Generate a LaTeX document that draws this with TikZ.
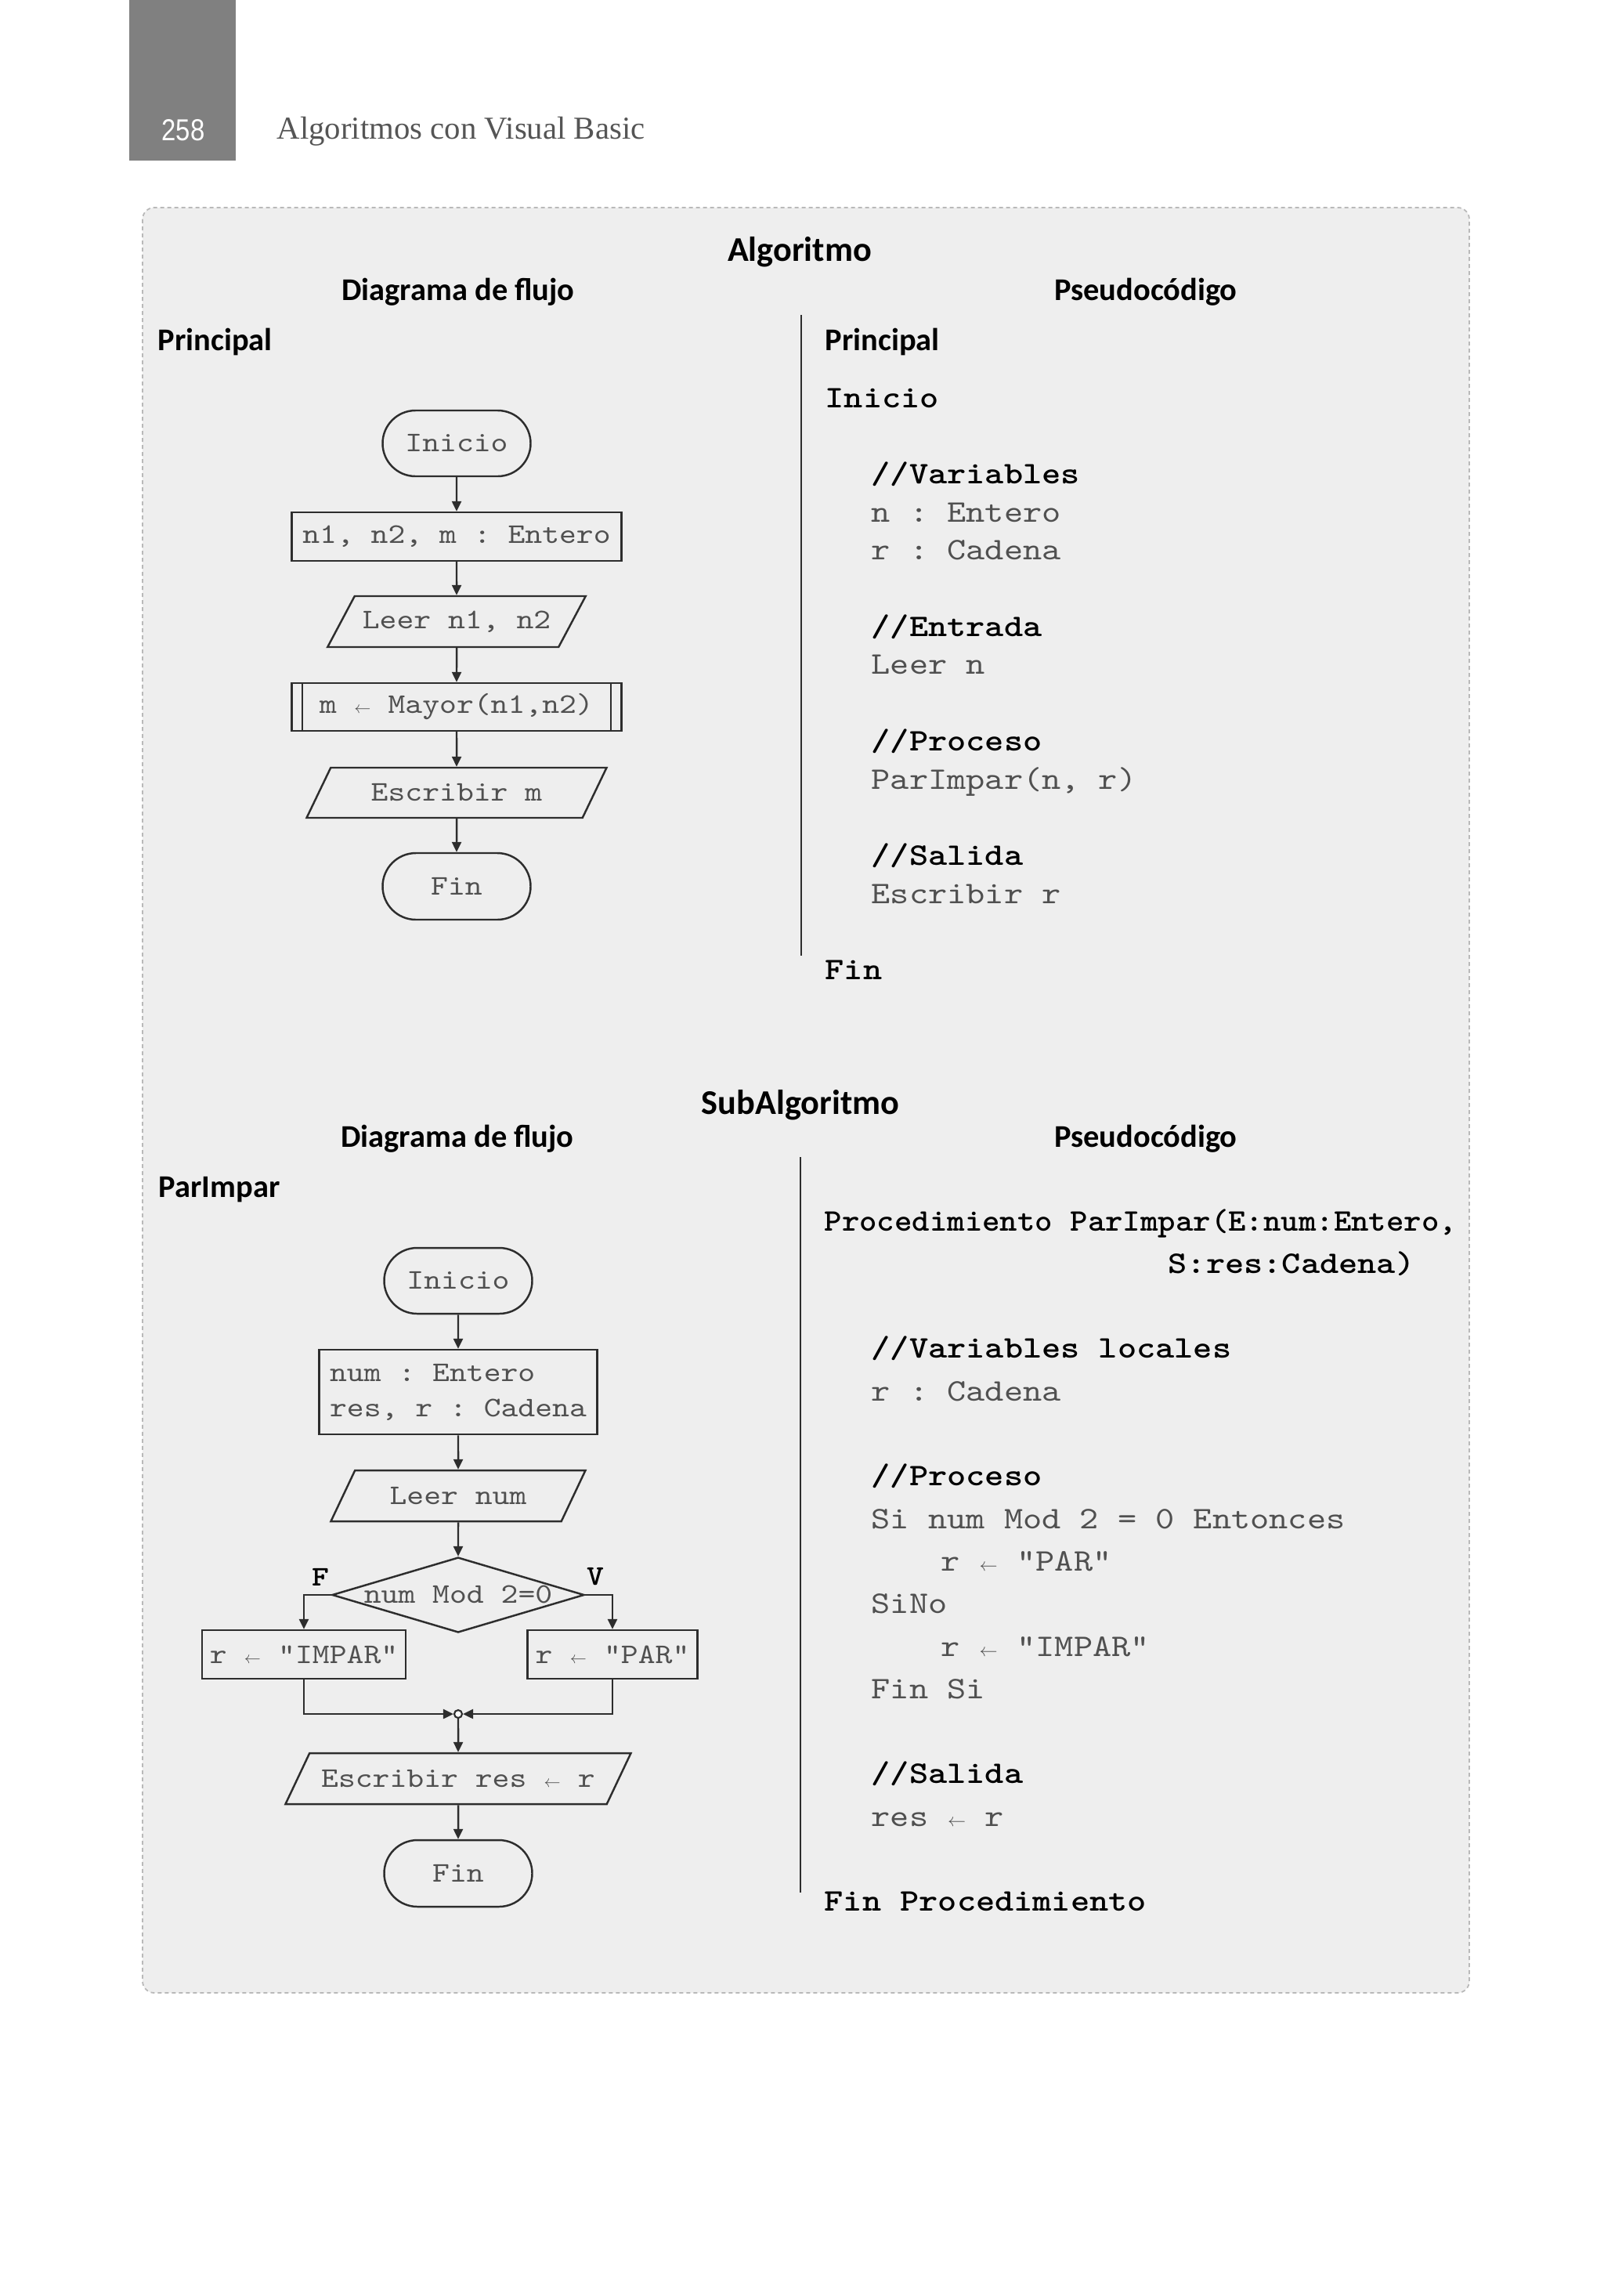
\documentclass[tikz,border=0pt]{standalone}
\usepackage{fontspec}
\usepackage{graphicx}
\setmainfont{Carlito}
\newfontfamily\bookfont{Liberation Serif}
\newfontfamily\pagefont{Liberation Sans}[FakeStretch=0.85]
\newfontfamily\courfont{lmmono10-regular}[Extension=.otf, BoldFont=lmmonolt10-bold, FakeStretch=1.15]
\definecolor{pagegray}{RGB}{128,128,128}
\definecolor{booktext}{RGB}{85,85,85}
\definecolor{boxgray}{RGB}{238,238,238}
\definecolor{boxline}{RGB}{185,185,185}
\definecolor{linegray}{RGB}{45,45,45}
\definecolor{txtgray}{RGB}{80,80,80}
\usetikzlibrary{arrows.meta,positioning,shapes.geometric,shapes.misc}

\newcommand{\flowtxt}{\courfont\fontsize{10.3}{12.8}\selectfont\frenchspacing}
\newcommand{\codetxt}{\courfont\fontsize{11.4}{13.5}\selectfont\frenchspacing}
\newcommand{\asig}{\hbox to\fontcharwd\font`x{\hss\scalebox{0.6}{$\leftarrow$}\hss}}

\begin{document}
\begin{tikzpicture}[x=1mm, y=-1mm,
  hbig/.style={font=\bfseries\fontsize{12.6}{15}\selectfont, inner sep=0pt, anchor=base},
  hmid/.style={font=\bfseries\fontsize{11.5}{14}\selectfont, inner sep=0pt, anchor=base},
  code/.style={font=\codetxt, text=txtgray, inner sep=0pt, anchor=base west},
  codeb/.style={font=\codetxt\bfseries, text=black, inner sep=0pt, anchor=base west},
  term/.style={rounded rectangle, draw=linegray, line width=0.7pt, minimum width=18.9mm, minimum height=8.4mm, inner sep=0pt, font=\flowtxt, text=txtgray},
  proc/.style={rectangle, draw=linegray, line width=0.7pt, minimum height=6.2mm, inner sep=1mm, font=\flowtxt, text=txtgray},
  pred/.style={proc, path picture={
      \draw[linegray, line width=0.7pt]
        ([xshift=1.35mm]path picture bounding box.north west) -- ([xshift=1.35mm]path picture bounding box.south west)
        ([xshift=-1.35mm]path picture bounding box.north east) -- ([xshift=-1.35mm]path picture bounding box.south east);}},
  io/.style={trapezium, trapezium left angle=54, trapezium right angle=126, trapezium stretches body,
      draw=linegray, line width=0.7pt, minimum height=6.5mm, inner sep=1mm, font=\flowtxt, text=txtgray},
  decide/.style={diamond, draw=linegray, line width=0.7pt, minimum width=32.2mm, minimum height=9.6mm, inner sep=0pt},
  merge/.style={circle, draw=linegray, line width=0.6pt, fill=white, minimum size=1mm, inner sep=0pt},
  flow/.style={draw=linegray, line width=0.7pt, -{Triangle[length=1.3mm,width=1.2mm]}},
  flag/.style={font=\flowtxt\bfseries, text=black, inner sep=0pt},
  divider/.style={draw=linegray, line width=0.5pt}]

  \useasboundingbox (0,0) rectangle (204.8,293.1);
  \fill[white] (0,0) rectangle (204.8,293.1);

  %--- page header ---
  \fill[pagegray] (16.5,0) rectangle (30.1,20.5);
  \node[font=\pagefont\fontsize{11}{13}\selectfont, text=white, inner sep=0pt] (pagenum) at (23.4,16.6) {258};
  \node[font=\bookfont\fontsize{11.6}{14}\selectfont, text=booktext, inner sep=0pt, anchor=base west] (booktitle) at (35.3,17.7) {Algoritmos con Visual Basic};

  % gray panel
  \draw[boxline, line width=0.5pt, dash pattern=on 0.5mm off 0.4mm, fill=boxgray, rounded corners=1.5mm] (18.2,26.5) rectangle (187.6,254.4);

  %--- Algoritmo ---
  \node[hbig] (alg) at (102.1,33.3) {Algoritmo};
  \node[hmid] (flow1) at (58.5,38.3) {Diagrama de flujo};
  \node[hmid] (pseudo1) at (146.3,38.3) {Pseudocódigo};
  \node[hmid, anchor=base west] (main1) at (20.1,44.7) {Principal};
  \node[hmid, anchor=base west] (main2) at (105.3,44.7) {Principal};
  \coordinate (sep1top) at (102.3,40.2);
  \coordinate (sep1bot) at (102.3,122.0);
  \draw[divider] (sep1top) -- (sep1bot);

  % flowchart Principal
  \node[term] (ini1) at (58.3,56.6) {Inicio};
  \node[proc, minimum width=42.1mm] (decl1) at (58.3,68.5) {n1, n2, m : Entero};
  \node[io, minimum width=32.4mm] (read1) at (58.3,79.35) {Leer n1, n2};
  \node[pred, minimum width=42.1mm, minimum height=6.1mm] (call1) at (58.3,90.25) {m \asig{} Mayor(n1,n2)};
  \node[io, minimum width=38.3mm, minimum height=6.4mm] (write1) at (58.3,101.2) {Escribir m};
  \node[term, minimum height=8.5mm] (fin1) at (58.3,113.15) {Fin};

  \draw[flow] (ini1) -- (decl1);
  \draw[flow] (decl1) -- (read1);
  \draw[flow] (read1) -- (call1);
  \draw[flow] (call1) -- (write1);
  \draw[flow] (write1) -- (fin1);

  % pseudocode Principal
  \node[codeb] (p1ini) at (105.3,52.0) {Inicio};
  \node[codeb] (p1var) at (111.2,61.74) {//Variables};
  \node[code] (p1n) at (111.2,66.61) {n : Entero};
  \node[code] (p1r) at (111.2,71.48) {r : Cadena};
  \node[codeb] (p1ent) at (111.2,81.22) {//Entrada};
  \node[code] (p1leer) at (111.2,86.09) {Leer n};
  \node[codeb] (p1proc) at (111.2,95.83) {//Proceso};
  \node[code] (p1call) at (111.2,100.7) {ParImpar(n, r)};
  \node[codeb] (p1sal) at (111.2,110.44) {//Salida};
  \node[code] (p1esc) at (111.2,115.31) {Escribir r};
  \node[codeb] (p1fin) at (105.3,125.05) {Fin};

  %--- SubAlgoritmo ---
  \node[hbig] (subalg) at (102.2,142.2) {SubAlgoritmo};
  \node[hmid] (flow2) at (58.4,146.4) {Diagrama de flujo};
  \node[hmid] (pseudo2) at (146.3,146.4) {Pseudocódigo};
  \node[hmid, anchor=base west] (sub2) at (20.2,152.8) {ParImpar};
  \coordinate (sep2top) at (102.2,147.7);
  \coordinate (sep2bot) at (102.2,241.6);
  \draw[divider] (sep2top) -- (sep2bot);

  % flowchart ParImpar
  \node[term] (ini2) at (58.5,163.5) {Inicio};
  \node[proc, minimum width=35.5mm, minimum height=10.8mm, align=left] (decl2) at (58.5,177.7) {num : Entero\\res, r : Cadena};
  \node[io, minimum width=32.5mm] (read2) at (58.5,190.95) {Leer num};
  \node[decide] (cond) at (58.5,203.6) {};
  \node[font=\flowtxt, text=txtgray, inner sep=0pt] (condtxt) at (58.5,203.5) {num Mod 2=0};
  \node[flag] (lblF) at (40.9,201.3) {F};
  \node[flag] (lblV) at (76.0,201.3) {V};
  \node[proc, minimum width=26.0mm] (impar) at (38.8,211.2) {r \asig{} “IMPAR”};
  \node[proc, minimum width=21.0mm] (par) at (78.2,211.2) {r \asig{} “PAR”};
  \node[merge] (join) at (58.5,218.8) {};
  \node[io, minimum width=44.1mm] (write2) at (58.5,227.05) {Escribir res \asig{} r};
  \node[term, minimum height=8.5mm] (fin2) at (58.5,239.15) {Fin};

  \draw[flow] (ini2) -- (decl2);
  \draw[flow] (decl2) -- (read2);
  \draw[flow] (read2) -- (cond);
  \draw[flow] (cond.west) -| (impar.north);
  \draw[flow] (cond.east) -| (par.north);
  \draw[flow] (impar.south) |- (join.west);
  \draw[flow] (par.south) |- (join.east);
  \draw[flow] (join) -- (write2);
  \draw[flow] (write2) -- (fin2);

  % pseudocode ParImpar
  \node[codeb] (p2head) at (105.2,157.1) {\scalebox{0.927}[1]{Procedimiento ParImpar(E:num:Entero,}};
  \node[codeb] (p2head2) at (149.1,162.53) {S:res:Cadena)};
  \node[codeb] (p2var) at (111.2,173.39) {//Variables locales};
  \node[code] (p2r) at (111.2,178.82) {r : Cadena};
  \node[codeb] (p2proc) at (111.2,189.68) {//Proceso};
  \node[code] (p2si) at (111.2,195.11) {Si num Mod 2 = 0 Entonces};
  \node[code] (p2par) at (120.1,200.54) {r \asig{} “PAR”};
  \node[code] (p2sino) at (111.2,205.97) {SiNo};
  \node[code] (p2impar) at (120.1,211.4) {r \asig{} “IMPAR”};
  \node[code] (p2finsi) at (111.2,216.83) {Fin Si};
  \node[codeb] (p2sal) at (111.2,227.69) {//Salida};
  \node[code] (p2res) at (111.2,233.12) {res \asig{} r};
  \node[codeb] (p2fin) at (105.2,243.98) {Fin Procedimiento};
\end{tikzpicture}
\end{document}
